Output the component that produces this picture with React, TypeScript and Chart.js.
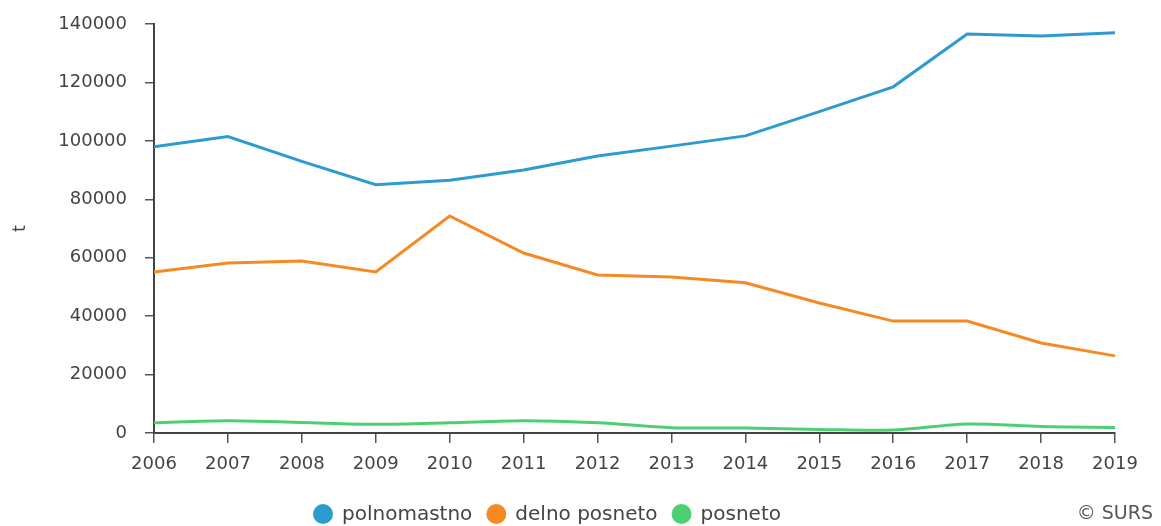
import { useEffect, useRef } from 'react';
import { Chart, registerables } from 'chart.js';

Chart.register(...registerables);

const years = ['2006', '2007', '2008', '2009', '2010', '2011', '2012', '2013', '2014', '2015', '2016', '2017', '2018', '2019'];
const polnomastno = [98000, 101500, 93000, 85000, 86500, 90000, 94800, 98200, 101700, 110000, 118500, 136600, 135900, 137000];
const delnoPosneto = [55100, 58200, 58900, 55100, 74300, 61600, 54100, 53400, 51400, 44500, 38300, 38300, 30800, 26400];
const posneto = [3500, 4200, 3600, 3000, 3500, 4200, 3500, 1800, 1700, 1200, 1000, 3100, 2200, 1900];
const seriesLabels = ['polnomastno', 'delno posneto', 'posneto'];
const seriesColors = ['#2e9bd0', '#f58a25', '#4ccf72'];
const yTicks = [0, 20000, 40000, 60000, 80000, 100000, 120000, 140000];
const credit = '\u00A9 SURS';

const FONT_FAMILY = '"DejaVu Sans", sans-serif';

const extras = {
  id: 'extras',
  afterDraw(chart: any) {
    const ctx = chart.ctx as CanvasRenderingContext2D;
    ctx.save();
    ctx.font = `20px ${FONT_FAMILY}`;
    ctx.textBaseline = 'middle';
    const r = 10;
    const gapCT = 9;
    const gapItem = 14;
    const items = chart.data.datasets.map((ds: any) => ({ label: ds.label, color: ds.borderColor, w: ctx.measureText(ds.label).width }));
    let total = 0;
    items.forEach((it: any, i: number) => {
      total += 2 * r + gapCT + it.w + (i < items.length - 1 ? gapItem : 0);
    });
    let x = 547 - total / 2;
    const y = 514;
    items.forEach((it: any) => {
      ctx.beginPath();
      ctx.fillStyle = it.color;
      ctx.arc(x + r, y, r, 0, Math.PI * 2);
      ctx.fill();
      ctx.fillStyle = '#444';
      ctx.textAlign = 'left';
      ctx.fillText(it.label, x + 2 * r + gapCT, y + 1);
      x += 2 * r + gapCT + it.w + gapItem;
    });
    ctx.font = `19px ${FONT_FAMILY}`;
    ctx.textAlign = 'right';
    ctx.fillStyle = '#555';
    ctx.fillText(credit, 1153, 514);
    ctx.restore();
  },
};

export default function App() {
  const ref = useRef<HTMLCanvasElement | null>(null);
  useEffect(() => {
    if (!ref.current) return;
    const tickFont = { family: FONT_FAMILY, size: 18 };
    const chart = new Chart(ref.current, {
      type: 'line',
      data: {
        labels: years,
        datasets: [polnomastno, delnoPosneto, posneto].map((d, i) => ({
          label: seriesLabels[i],
          data: d,
          borderColor: seriesColors[i],
          backgroundColor: seriesColors[i],
          borderWidth: 3,
          pointRadius: 0,
          tension: i === 2 ? 0.3 : 0,
          fill: false,
        })),
      },
      options: {
        responsive: false,
        animation: false,
        layout: { padding: { top: 24, right: 46, bottom: 43, left: 0 } },
        plugins: { legend: { display: false }, tooltip: { enabled: false } },
        scales: {
          x: {
            type: 'category',
            offset: false,
            grid: { display: true, drawOnChartArea: false, drawTicks: true, tickLength: 10, color: '#555', lineWidth: 1.5 },
            border: { display: true, color: '#444', width: 2 },
            ticks: { font: tickFont, color: '#444', padding: 11, maxRotation: 0, autoSkip: false },
            afterFit: (s: any) => { s.height = 50; s.paddingLeft = 0; s.paddingRight = 0; },
          },
          y: {
            min: yTicks[0],
            max: yTicks[yTicks.length - 1],
            afterBuildTicks: (s: any) => { s.ticks = yTicks.map((v) => ({ value: v })); },
            grid: { display: true, drawOnChartArea: false, drawTicks: true, tickLength: 9, color: '#555', lineWidth: 1.5 },
            border: { display: true, color: '#444', width: 2 },
            ticks: { font: tickFont, color: '#444', padding: 18, callback: (v: any) => String(v) },
            title: { display: true, text: 't', font: tickFont, color: '#444', padding: { top: 10, bottom: 0 } },
            afterFit: (s: any) => { s.width = 154; s.paddingTop = 0; s.paddingBottom = 0; },
          },
        },
      },
      plugins: [extras],
    } as any);
    return () => chart.destroy();
  }, []);
  return (
    <div style={{ position: 'absolute', left: 0, top: 0, width: 1161, height: 526, background: '#fff' }}>
      <canvas ref={ref} width={1161} height={526} />
    </div>
  );
}
